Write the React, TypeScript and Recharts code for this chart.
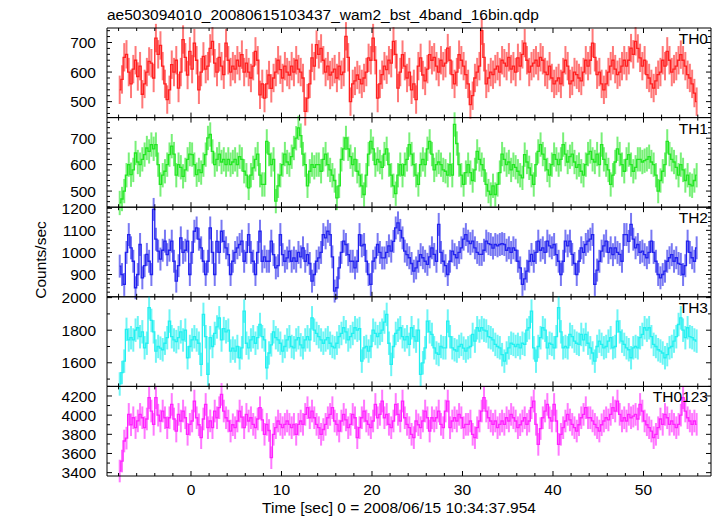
import React from 'react';
import { LineChart, Line, XAxis, YAxis, ErrorBar } from 'recharts';

const W = 717;
const H = 516;
const PLOT_LEFT = 107;
const PLOT_RIGHT = 711;
const PLOT_TOP = 28;
const PLOT_BOTTOM = 476;
const FONT = '"Liberation Sans", Arial, Helvetica, sans-serif';
const FS = 15.5;

const T_START = -7.875;
const BIN = 0.25;
const X_DOMAIN = [-9.28, 57.46];
const X_TICKS = [-8, -6, -4, -2, 0, 2, 4, 6, 8, 10, 12, 14, 16, 18, 20, 22, 24, 26, 28, 30, 32, 34, 36, 38, 40, 42, 44, 46, 48, 50, 52, 54, 56];
const X_LABELS = [0, 10, 20, 30, 40, 50];

const th0 = [
  540, 575, 650, 660, 600, 560, 610, 640, 585, 620, 525, 560, 600, 636, 630, 580,
  715, 660, 690, 620, 560, 507, 540, 625, 600, 640, 546, 600, 710, 650, 590, 670,
  610, 698, 640, 540, 600, 653, 610, 620, 680, 704, 630, 600, 650, 620, 591, 698,
  640, 600, 620, 610, 640, 620, 659, 600, 630, 600, 580, 620, 670, 640, 523, 560,
  512, 560, 590, 545, 580, 600, 640, 608, 580, 620, 600, 590, 620, 600, 640, 610,
  600, 580, 467, 512, 560, 648, 620, 693, 660, 680, 640, 600, 620, 590, 600, 610,
  580, 620, 591, 600, 721, 650, 500, 560, 570, 590, 575, 560, 580, 600, 648, 640,
  715, 640, 512, 560, 591, 620, 608, 640, 630, 704, 660, 546, 600, 659, 620, 580,
  600, 540, 560, 507, 620, 648, 590, 570, 610, 659, 640, 650, 620, 600, 640, 620,
  630, 681, 640, 591, 560, 600, 659, 640, 620, 591, 560, 490, 520, 580, 600, 620,
  740, 650, 560, 580, 600, 591, 610, 620, 600, 640, 630, 620, 650, 610, 620, 600,
  648, 620, 660, 698, 640, 600, 620, 630, 640, 620, 650, 640, 600, 591, 620, 580,
  560, 570, 580, 560, 600, 640, 620, 560, 570, 600, 591, 580, 570, 600, 640, 620,
  640, 698, 650, 591, 600, 560, 540, 560, 600, 620, 640, 610, 591, 600, 620, 640,
  620, 640, 681, 660, 704, 680, 648, 620, 640, 591, 580, 560, 546, 570, 591, 600,
  640, 620, 670, 640, 600, 610, 620, 640, 659, 640, 620, 591, 580, 560, 529, 500,
];

const th1 = [
  455, 470, 500, 560, 600, 562, 580, 644, 610, 600, 620, 638, 663, 650, 676, 660,
  676, 600, 525, 560, 575, 600, 638, 670, 640, 560, 600, 590, 556, 580, 620, 640,
  638, 600, 562, 580, 570, 600, 638, 701, 714, 650, 600, 620, 640, 610, 620, 600,
  620, 600, 610, 620, 600, 630, 620, 575, 560, 512, 560, 588, 620, 640, 560, 525,
  525, 688, 640, 600, 620, 462, 520, 560, 600, 640, 610, 600, 630, 663, 700, 739,
  710, 640, 600, 520, 575, 600, 590, 600, 600, 575, 620, 640, 600, 580, 560, 540,
  474, 520, 620, 660, 701, 660, 630, 600, 620, 575, 560, 520, 487, 560, 640, 688,
  660, 600, 620, 610, 590, 640, 660, 600, 560, 520, 490, 560, 600, 560, 600, 620,
  676, 640, 600, 560, 525, 600, 620, 600, 660, 688, 640, 580, 600, 610, 600, 580,
  575, 560, 600, 560, 752, 680, 600, 560, 525, 570, 600, 570, 540, 580, 650, 620,
  600, 580, 525, 500, 487, 520, 487, 525, 570, 640, 620, 600, 610, 580, 600, 590,
  575, 560, 550, 638, 610, 588, 560, 525, 600, 650, 676, 640, 620, 580, 560, 600,
  638, 620, 600, 620, 676, 640, 610, 630, 640, 610, 590, 600, 575, 560, 600, 640,
  650, 620, 610, 640, 600, 676, 620, 600, 580, 525, 560, 610, 660, 640, 600, 575,
  620, 638, 600, 575, 590, 620, 620, 610, 615, 620, 630, 610, 600, 560, 500, 540,
  575, 600, 688, 640, 620, 610, 590, 560, 600, 580, 540, 560, 525, 520, 540, 560,
];

const th2 = [
  938, 900, 855, 1000, 1081, 1021, 960, 840, 900, 1036, 885, 940, 991, 960, 900, 1195,
  1060, 1006, 970, 1010, 1051, 990, 1010, 1051, 960, 870, 940, 1066, 1000, 1010, 1051, 900,
  1000, 1096, 1111, 1060, 1021, 960, 900, 960, 1111, 1000, 900, 1050, 1000, 1096, 1050, 1021,
  990, 900, 960, 1000, 1021, 1036, 1051, 960, 1000, 1081, 1000, 960, 900, 1000, 1096, 960,
  980, 960, 960, 1051, 990, 930, 940, 1081, 990, 960, 975, 1006, 960, 975, 960, 1000,
  980, 1021, 960, 990, 950, 870, 900, 960, 975, 1000, 1081, 1066, 1096, 1081, 980, 825,
  840, 930, 1000, 1051, 1036, 990, 960, 960, 930, 960, 1081, 1030, 1036, 960, 900, 855,
  960, 975, 1036, 1000, 975, 975, 1000, 1030, 1006, 1050, 1111, 1134, 1100, 1066, 1006, 990,
  976, 950, 915, 930, 960, 990, 976, 960, 946, 980, 1021, 991, 960, 1127, 1000, 960,
  940, 900, 960, 1006, 990, 976, 1000, 1021, 1060, 1081, 1051, 1040, 1051, 1021, 1000, 991,
  991, 1010, 1051, 1040, 1036, 1020, 1036, 1030, 1036, 1040, 1036, 1010, 1021, 1000, 1021, 1010,
  960, 930, 855, 880, 915, 960, 991, 960, 1000, 1051, 1010, 1021, 1000, 1051, 1030, 1021,
  1036, 990, 960, 900, 960, 1051, 1030, 1051, 991, 950, 900, 960, 1021, 1000, 1036, 1051,
  1060, 1081, 855, 920, 960, 1006, 1030, 1051, 1000, 1021, 990, 1021, 1000, 991, 960, 1081,
  1081, 1050, 1127, 1060, 1021, 1036, 1000, 1006, 990, 976, 1000, 1051, 1000, 960, 900, 885,
  900, 915, 960, 976, 990, 960, 976, 950, 946, 900, 940, 1051, 1000, 976, 960, 1021,
];

const th3 = [
  1470, 1540, 1610, 1805, 1740, 1754, 1740, 1800, 1815, 1760, 1790, 1692, 1720, 1938, 1860, 1790,
  1672, 1700, 1690, 1680, 1720, 1754, 1856, 1760, 1740, 1730, 1754, 1790, 1740, 1800, 1631, 1700,
  1740, 1760, 1740, 1720, 1590, 1897, 1760, 1529, 1754, 1700, 1780, 1820, 1876, 1740, 1810, 1790,
  1800, 1672, 1690, 1672, 1700, 1630, 1692, 1917, 1720, 1692, 1740, 1760, 1720, 1754, 1835, 1760,
  1740, 1569, 1660, 1710, 1790, 1754, 1740, 1720, 1672, 1700, 1740, 1760, 1700, 1692, 1740, 1754,
  1710, 1692, 1740, 1760, 1740, 1876, 1800, 1780, 1760, 1740, 1720, 1740, 1754, 1720, 1700, 1692,
  1720, 1760, 1780, 1815, 1790, 1740, 1760, 1780, 1815, 1800, 1810, 1610, 1692, 1700, 1672, 1700,
  1800, 1780, 1760, 1780, 1800, 1850, 1897, 1720, 1590, 1700, 1780, 1800, 1815, 1760, 1740, 1760,
  1713, 1815, 1760, 1733, 1800, 1529, 1600, 1692, 1856, 1790, 1774, 1692, 1660, 1651, 1700, 1692,
  1692, 1856, 1760, 1692, 1680, 1672, 1700, 1713, 1690, 1672, 1692, 1700, 1774, 1733, 1815, 1795,
  1815, 1800, 1795, 1760, 1754, 1740, 1713, 1700, 1692, 1650, 1610, 1660, 1692, 1720, 1713, 1700,
  1713, 1692, 1720, 1713, 1800, 1815, 1917, 1692, 1610, 1700, 1754, 1815, 1800, 1692, 1720, 1713,
  1692, 1760, 1938, 1790, 1692, 1700, 1692, 1774, 1760, 1733, 1720, 1713, 1774, 1740, 1774, 1720,
  1692, 1660, 1610, 1700, 1733, 1713, 1692, 1700, 1733, 1754, 1692, 1700, 1856, 1790, 1733, 1713,
  1692, 1680, 1631, 1692, 1700, 1692, 1754, 1774, 1815, 1800, 1815, 1760, 1713, 1700, 1680, 1672,
  1660, 1631, 1650, 1692, 1700, 1733, 1760, 1835, 1876, 1800, 1754, 1815, 1760, 1754, 1740, 1733,
];

const th0123 = [
  3417, 3521, 3730, 3760, 4008, 3900, 3973, 3870, 3940, 4008, 3973, 3870, 3960, 4182, 4043, 3904,
  4182, 4000, 3939, 4043, 3973, 3869, 3973, 4112, 3960, 3834, 4008, 3939, 4043, 3973, 3800, 3904,
  3939, 4147, 3973, 3900, 3765, 3960, 4112, 3869, 3940, 3869, 4043, 3973, 4078, 4217, 4043, 3973,
  3939, 3834, 3900, 3869, 3939, 4043, 3980, 3869, 4008, 3939, 3973, 3904, 3869, 3960, 4078, 3950,
  3800, 3904, 3840, 3556, 3800, 3869, 3939, 3904, 3869, 3904, 3939, 3904, 3869, 3904, 3800, 3904,
  3939, 3904, 4008, 4078, 3973, 4043, 3973, 3904, 3869, 3800, 3850, 3904, 3973, 4008, 4078, 3939,
  3904, 3834, 3939, 4008, 3950, 3869, 3904, 4008, 3973, 3765, 3869, 3973, 4043, 3939, 3904, 3869,
  3939, 4112, 3973, 4008, 4147, 3973, 4008, 3904, 3869, 3939, 4112, 4008, 3939, 4147, 3973, 3904,
  3869, 3800, 3765, 3939, 3900, 3869, 3939, 4043, 3973, 3834, 3973, 3939, 3973, 4043, 3904, 3869,
  4043, 4147, 3869, 3939, 3973, 3939, 4008, 3973, 3869, 3904, 3904, 3939, 3800, 3765, 3869, 3939,
  4043, 4182, 4043, 3973, 3939, 3904, 3939, 3869, 3904, 3939, 3904, 3973, 3939, 4008, 3973, 3939,
  3869, 3900, 3939, 3973, 3904, 3939, 4078, 4147, 3904, 3695, 3860, 3973, 4043, 4112, 3973, 3939,
  4112, 3939, 3695, 3800, 3869, 3939, 4008, 3950, 3904, 3869, 3834, 3900, 3973, 4008, 4078, 3973,
  3973, 3940, 3904, 3869, 3834, 3900, 3939, 3973, 3950, 4008, 4078, 4043, 4147, 4008, 3939, 3973,
  3939, 4008, 3973, 3990, 4008, 3960, 4112, 4043, 3939, 3900, 3869, 3834, 3765, 3800, 3869, 3960,
  3904, 4008, 3973, 3904, 3939, 3904, 3869, 3904, 4000, 4182, 4043, 3973, 3939, 3904, 3939, 3904,
];

const panelNames = ['TH0', 'TH1', 'TH2', 'TH3', 'TH0123'];
const panelSeries = [th0, th1, th2, th3, th0123];
const panelColors = ['#ff2020', '#22e622', '#2222ee', '#22f0f0', '#ff22ff'];
const panelErrColors = ['rgba(255,30,30,0.6)', 'rgba(30,230,30,0.6)', 'rgba(30,30,235,0.6)', 'rgba(30,240,240,0.65)', 'rgba(255,30,255,0.6)'];
const panelDomains = [[446, 749], [439, 778], [799, 1205], [1455, 2005], [3365, 4300]];
const panelMajorTicks = [[500, 600, 700], [500, 600, 700], [900, 1000, 1100, 1200], [1600, 1800, 2000], [3400, 3600, 3800, 4000, 4200]];
const panelMinorSteps = [20, 20, 20, 100, 100];
const panelErrors = [48, 46, 52, 72, 118];

function XTick(props: any) {
  const { x, y, payload, dir, showLabel } = props;
  const v = payload.value;
  const major = X_LABELS.includes(v);
  const len = major ? 5 : 3;
  return (
    <g>
      <line x1={x} x2={x} y1={y} y2={y + dir * len} stroke="#000" strokeWidth={1} />
      {showLabel && major ? (
        <text x={x} y={y + 19} textAnchor="middle" fontFamily={FONT} fontSize={FS} fill="#000">{v}</text>
      ) : null}
    </g>
  );
}

function YTick(props: any) {
  const { x, y, payload, dir, majors, showLabel } = props;
  const v = payload.value;
  const major = majors.includes(v);
  const len = major ? 5 : 3;
  return (
    <g>
      <line x1={x} x2={x + dir * len} y1={y} y2={y} stroke="#000" strokeWidth={1} />
      {showLabel && major ? (
        <text x={x - 11} y={y} dy="0.36em" textAnchor="end" fontFamily={FONT} fontSize={FS} fill="#000">{v}</text>
      ) : null}
    </g>
  );
}

function Panel({ idx }: { idx: number }) {
  const ph = (PLOT_BOTTOM - PLOT_TOP) / panelSeries.length;
  const top = PLOT_TOP + idx * ph;
  const bottom = H - (top + ph);
  const series = panelSeries[idx];
  const data = series.map((v, i) => ({ t: T_START + i * BIN, v, err: panelErrors[idx] }));
  const [lo, hi] = panelDomains[idx];
  const step = panelMinorSteps[idx];
  const yTicks: number[] = [];
  for (let y = Math.ceil(lo / step) * step; y <= hi; y += step) yTicks.push(y);
  const majors = panelMajorTicks[idx];
  const isLast = idx === panelSeries.length - 1;
  const color = panelColors[idx];
  return (
    <div style={{ position: 'absolute', left: 0, top: 0 }}>
      <LineChart
        width={W}
        height={H}
        data={data}
        margin={{ top: top - 1, bottom: bottom - 1, left: PLOT_LEFT - 1, right: W - PLOT_RIGHT - 1 }}
      >
        <XAxis
          xAxisId="b"
          dataKey="t"
          type="number"
          domain={X_DOMAIN}
          allowDataOverflow
          ticks={X_TICKS}
          interval={0}
          height={1}
          tickSize={0}
          tickMargin={0}
          axisLine={{ stroke: '#000' }}
          tickLine={false}
          tick={(p: any) => <XTick {...p} dir={-1} showLabel={isLast} />}
        />
        <XAxis
          xAxisId="t"
          orientation="top"
          dataKey="t"
          type="number"
          domain={X_DOMAIN}
          allowDataOverflow
          ticks={X_TICKS}
          interval={0}
          height={1}
          tickSize={0}
          tickMargin={0}
          axisLine={{ stroke: '#000' }}
          tickLine={false}
          tick={(p: any) => <XTick {...p} dir={1} showLabel={false} />}
        />
        <YAxis
          yAxisId="l"
          type="number"
          domain={[lo, hi]}
          allowDataOverflow
          ticks={yTicks}
          interval={0}
          width={1}
          tickSize={0}
          tickMargin={0}
          axisLine={{ stroke: '#000' }}
          tickLine={false}
          tick={(p: any) => <YTick {...p} dir={1} majors={majors} showLabel={true} />}
        />
        <YAxis
          yAxisId="r"
          orientation="right"
          type="number"
          domain={[lo, hi]}
          allowDataOverflow
          ticks={yTicks}
          interval={0}
          width={1}
          tickSize={0}
          tickMargin={0}
          axisLine={{ stroke: '#000' }}
          tickLine={false}
          tick={(p: any) => <YTick {...p} dir={-1} majors={majors} showLabel={false} />}
        />
        <Line
          xAxisId="b"
          yAxisId="l"
          dataKey="v"
          type="step"
          stroke={color}
          strokeWidth={1.3}
          dot={false}
          activeDot={false}
          isAnimationActive={false}
        >
          <ErrorBar dataKey="err" width={0} stroke={panelErrColors[idx]} strokeWidth={2} direction="y" isAnimationActive={false} />
        </Line>
      </LineChart>
      <svg width={W} height={H} style={{ position: 'absolute', left: 0, top: 0, pointerEvents: 'none' }}>
        <text x={708} y={top + 16} textAnchor="end" fontFamily={FONT} fontSize={FS} fill="#000">{panelNames[idx]}</text>
      </svg>
    </div>
  );
}

export default function App() {
  const midY = 260;
  return (
    <div style={{ position: 'absolute', left: 0, top: 0, width: W, height: H, background: '#fff', overflow: 'hidden' }}>
      {panelSeries.map((_, i) => (
        <Panel key={i} idx={i} />
      ))}
      <svg width={W} height={H} style={{ position: 'absolute', left: 0, top: 0, pointerEvents: 'none' }}>
        <text x={PLOT_LEFT} y={20} fontFamily={FONT} fontSize={FS} fill="#000">ae503094010_20080615103437_wam2_bst_4band_16bin.qdp</text>
        <text x={46} y={midY} transform={`rotate(-90 46 ${midY})`} textAnchor="middle" fontFamily={FONT} fontSize={FS} fill="#000">Counts/sec</text>
        <text x={399} y={513} textAnchor="middle" fontFamily={FONT} fontSize={FS} fill="#000">Time [sec] 0 = 2008/06/15 10:34:37.954</text>
      </svg>
    </div>
  );
}
